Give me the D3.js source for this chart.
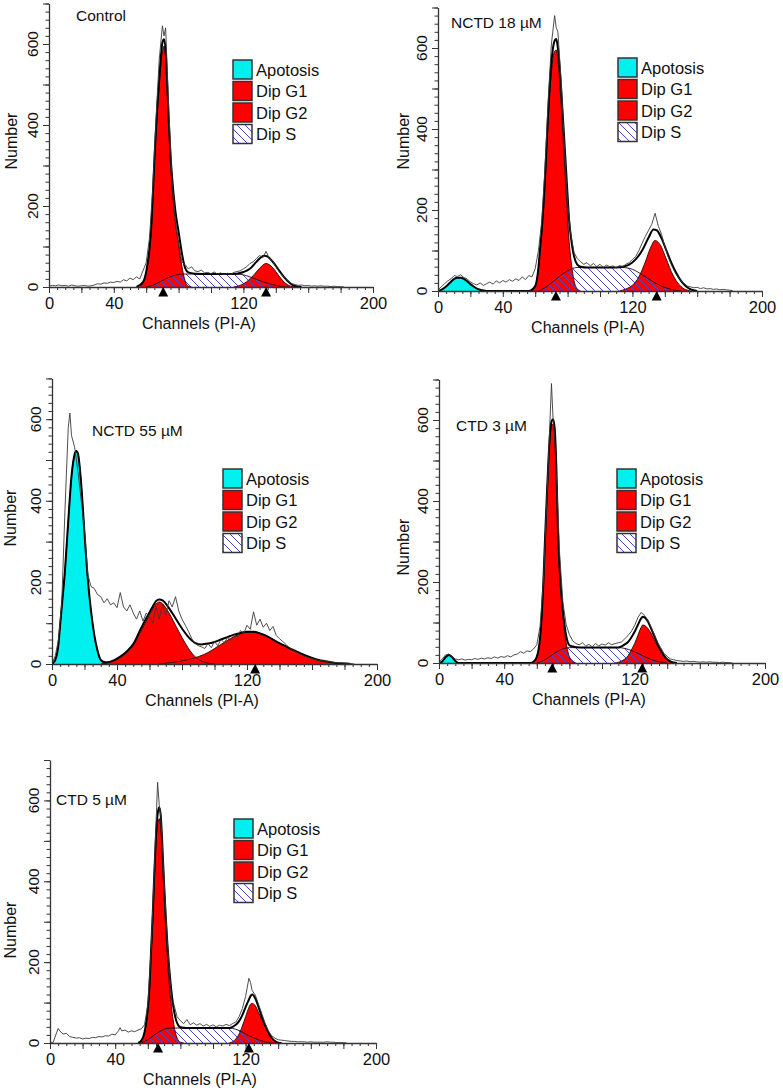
<!DOCTYPE html>
<html><head><meta charset="utf-8">
<script src="https://cdn.jsdelivr.net/npm/d3@7"></script>
<style>body{margin:0;background:#fff} text{font-family:Arial,"Liberation Sans",sans-serif;fill:#111}</style>
</head><body><svg id="c" width="783" height="1091"></svg>
<script>
// ---------- DATA (channel, count) ----------
const xTickLabels = [0, 40, 120, 200];
const yTickLabels = [0, 200, 400, 600];
const legendLabels = ["Apotosis", "Dip G1", "Dip G2", "Dip S"];
const titles = ["Control", "NCTD 18 \u00b5M", "NCTD 55 \u00b5M", "CTD 3 \u00b5M", "CTD 5 \u00b5M"];

// Control
const ctrlG1 = [[56,0],[58,10],[60,35],[62,90],[63,135],[64,210],[65,300],[66,375],[68,495],[70,582],[71,595],[72,565],[73,480],[74,385],[75,305],[76,245],[78,160],[80,105],[82,52],[84,15],[86,2],[88,0]];
const ctrlS = [[60,0],[64,4],[68,12],[72,20],[76,27],[80,31],[84,32],[100,32],[116,32],[120,30],[124,25],[128,19],[132,13],[136,8],[140,4],[144,1],[148,0]];
const ctrlG2 = [[114,0],[118,4],[122,13],[126,28],[130,46],[133,57],[134,58],[136,55],[138,48],[140,38],[142,27],[144,17],[146,9],[148,4],[150,1],[152,0]];
const ctrlFit = [[54,0],[58,12],[60,38],[62,95],[63,140],[64,218],[65,310],[66,388],[68,512],[70,603],[71,612],[72,585],[73,500],[74,405],[75,327],[76,270],[78,188],[80,136],[82,84],[84,47],[86,36],[90,33],[100,32],[110,32],[116,33],[120,37],[124,45],[128,62],[131,74],[133,77],[135,75],[138,63],[141,47],[144,30],[147,16],[150,6],[153,1],[156,0]];
const ctrlRaw = [[0,2],[2,4],[4,3],[6,5],[8,3],[10,4],[12,2],[14,5],[16,3],[18,2],[20,3],[22,4],[24,2],[26,3],[28,5],[30,8],[32,7],[34,10],[36,9],[38,12],[40,11],[42,14],[44,12],[46,18],[48,15],[50,22],[52,18],[54,25],[56,20],[58,40],[60,60],[62,120],[64,240],[66,410],[68,560],[70,645],[71,620],[72,640],[74,430],[76,260],[78,170],[80,110],[82,62],[84,55],[86,45],[88,50],[90,40],[92,38],[94,42],[96,35],[98,36],[100,33],[102,37],[104,32],[106,35],[108,30],[110,34],[112,31],[114,36],[116,38],[118,40],[120,45],[122,50],[124,58],[126,62],[128,70],[130,78],[132,72],[134,88],[136,70],[138,65],[140,50],[142,38],[144,28],[146,20],[148,12],[150,8],[152,6],[154,4],[156,5],[158,3],[160,4],[162,2],[164,3],[166,2],[168,3],[170,2],[172,2],[174,1],[176,2],[178,1],[180,1],[182,0]];
const ctrlMarks = [70.5, 134];

// NCTD 18 uM
const n18Apo = [[0,0],[2,3],[4,8],[6,15],[8,23],[10,30],[12,33],[14,33],[16,30],[18,24],[20,17],[22,11],[24,6],[26,3],[28,1],[30,0]];
const n18G1 = [[58,0],[60,12],[62,55],[63,100],[64,140],[66,260],[68,420],[70,540],[72,592],[73,595],[74,570],[76,460],[78,320],[80,180],[81,120],[82,80],[84,25],[86,5],[88,0]];
const n18S = [[62,0],[66,8],[70,20],[74,33],[78,45],[82,54],[86,58],[100,58],[114,58],[118,56],[122,50],[126,40],[130,30],[134,20],[138,12],[142,6],[146,2],[150,0]];
const n18G2 = [[112,0],[116,5],[120,14],[124,35],[128,72],[131,105],[134,125],[136,120],[138,108],[140,88],[142,68],[144,48],[146,32],[148,20],[150,11],[152,5],[154,2],[156,0]];
const n18Fit = [[0,0],[2,3],[4,8],[6,15],[8,23],[10,30],[12,33],[14,33],[16,30],[18,24],[20,17],[22,11],[24,6],[26,3],[28,1],[30,0],[56,0],[60,12],[62,58],[63,104],[64,150],[66,275],[68,440],[70,565],[72,618],[73,622],[74,600],[76,500],[78,370],[80,235],[81,172],[82,135],[84,85],[86,65],[88,60],[92,58],[100,58],[110,58],[114,60],[118,65],[122,78],[126,100],[130,132],[133,152],[135,150],[138,130],[141,100],[144,70],[147,45],[150,25],[153,12],[156,4],[160,0]];
const n18Raw = [[0,3],[2,10],[4,18],[6,25],[8,30],[10,38],[12,36],[14,40],[16,33],[18,30],[20,22],[22,18],[24,15],[26,20],[28,14],[30,18],[32,22],[34,17],[36,25],[38,20],[40,26],[42,22],[44,28],[46,24],[48,30],[50,26],[52,35],[54,28],[56,38],[58,35],[60,55],[62,100],[64,170],[66,300],[68,470],[70,610],[72,680],[73,650],[74,640],[76,520],[78,360],[80,220],[82,140],[84,95],[86,80],[88,72],[90,66],[92,70],[94,62],[96,68],[98,60],[100,66],[102,58],[104,64],[106,60],[108,62],[110,57],[112,63],[114,60],[116,66],[118,70],[120,78],[122,85],[124,100],[126,118],[128,135],[130,150],[132,165],[134,192],[136,160],[138,140],[140,110],[142,85],[144,65],[146,48],[148,35],[150,25],[152,18],[154,12],[156,10],[158,8],[160,9],[162,6],[164,8],[166,5],[168,6],[170,4],[172,5],[174,3],[176,4],[178,3],[180,2],[182,1]];
const n18Marks = [72.8, 135];

// NCTD 55 uM
const n55Apo = [[0,0],[2,10],[4,50],[5,95],[6,140],[8,230],[10,350],[12,460],[14,515],[15,522],[16,515],[18,440],[20,320],[21,260],[22,210],[24,130],[25,100],[26,70],[28,30],[30,8],[32,2],[34,0]];
const n55G1 = [[30,0],[34,3],[38,8],[42,16],[46,28],[50,45],[54,75],[58,105],[62,135],[64,147],[66,152],[68,148],[70,138],[72,125],[76,95],[80,65],[84,38],[88,18],[92,7],[96,2],[100,0]];
const n55G2 = [[66,0],[72,3],[78,6],[84,11],[90,18],[96,28],[100,38],[104,48],[108,58],[112,67],[116,74],[120,78],[124,78],[128,75],[132,69],[136,60],[140,51],[144,43],[148,35],[152,28],[156,21],[160,15],[164,10],[168,7],[172,4],[176,2],[180,1],[184,0]];
const n55Fit = [[0,0],[2,10],[4,50],[5,95],[6,140],[8,230],[10,350],[12,460],[14,515],[15,522],[16,515],[18,440],[20,320],[22,210],[24,130],[26,72],[28,33],[30,10],[32,5],[34,4],[38,9],[42,18],[46,31],[50,49],[54,81],[58,112],[62,141],[64,154],[66,158],[68,156],[70,148],[72,137],[76,112],[80,87],[84,66],[88,52],[92,48],[96,50],[100,54],[104,60],[108,66],[112,72],[116,76],[120,79],[124,79],[128,75],[132,69],[136,60],[140,51],[144,43],[148,35],[152,28],[156,21],[160,15],[164,10],[168,7],[172,4],[176,2],[180,1],[184,0]];
const n55Raw = [[0,0],[2,20],[4,60],[6,150],[8,380],[10,580],[11,615],[12,560],[14,530],[16,470],[18,400],[20,330],[22,220],[24,190],[26,185],[28,170],[30,165],[32,150],[34,160],[36,145],[38,150],[40,138],[42,175],[44,140],[46,130],[48,145],[50,125],[52,110],[54,130],[56,105],[58,125],[60,115],[62,100],[64,140],[66,110],[68,145],[70,120],[72,155],[74,140],[76,165],[78,130],[80,110],[82,95],[84,80],[86,62],[88,50],[90,45],[92,42],[94,38],[96,50],[98,40],[100,55],[102,45],[104,60],[106,52],[108,65],[110,58],[112,72],[114,66],[116,82],[118,75],[120,95],[122,85],[124,128],[126,95],[128,110],[130,90],[132,100],[134,82],[136,92],[138,70],[140,62],[142,55],[144,48],[146,40],[148,35],[150,30],[152,26],[154,22],[156,18],[158,15],[160,13],[162,11],[164,9],[166,8],[168,7],[170,6],[172,5],[174,4],[176,3],[178,3],[180,2],[182,2],[184,1],[186,0]];
const n55Marks = [125];

// CTD 3 uM
const c3Apo = [[0,0],[2,4],[4,14],[6,20],[8,15],[10,5],[12,0]];
const c3G1 = [[56,0],[58,3],[60,15],[62,60],[63,110],[64,190],[65,295],[66,390],[67,480],[68,550],[69,585],[70,590],[71,565],[72,470],[73,310],[74,220],[75,160],[76,115],[78,50],[80,15],[82,3],[84,0]];
const c3S = [[60,0],[64,6],[68,16],[72,27],[76,35],[80,38],[100,38],[110,38],[114,36],[118,31],[122,24],[126,16],[130,9],[134,4],[138,1],[140,0]];
const c3G2 = [[108,0],[112,5],[116,18],[118,32],[120,48],[122,68],[124,88],[125,94],[126,93],[128,86],[130,74],[132,58],[134,42],[136,28],[138,17],[140,9],[142,4],[144,1],[146,0]];
const c3Fit = [[0,0],[2,4],[4,14],[6,20],[8,15],[10,5],[12,0],[56,0],[58,3],[60,15],[62,62],[63,115],[64,196],[65,302],[66,398],[67,489],[68,560],[69,596],[70,602],[71,578],[72,484],[73,324],[74,234],[75,175],[76,130],[78,68],[80,44],[82,41],[84,39],[90,38],[100,38],[110,38],[112,41],[114,46],[116,52],[118,63],[120,77],[122,94],[124,110],[125,114],[126,113],[128,104],[130,86],[132,67],[134,48],[136,32],[138,19],[140,9],[142,4],[144,1],[146,0]];
const c3Raw = [[0,2],[2,10],[4,20],[6,22],[8,14],[10,10],[12,8],[14,10],[16,7],[18,9],[20,8],[22,11],[24,9],[26,12],[28,10],[30,13],[32,11],[34,15],[36,12],[38,16],[40,14],[42,18],[44,15],[46,20],[48,22],[50,28],[52,24],[54,30],[56,28],[58,35],[60,45],[62,90],[64,200],[66,390],[68,590],[69,690],[70,600],[71,560],[72,470],[74,270],[76,150],[78,95],[80,70],[82,55],[84,48],[86,45],[88,50],[90,42],[92,46],[94,40],[96,48],[98,42],[100,47],[102,44],[104,50],[106,45],[108,48],[110,50],[112,52],[114,60],[116,68],[118,78],[120,92],[122,112],[124,125],[126,118],[128,105],[130,90],[132,72],[134,52],[136,38],[138,24],[140,16],[142,10],[144,8],[146,6],[148,5],[150,4],[152,5],[154,3],[156,4],[158,3],[160,2],[162,3],[164,2],[166,3],[168,2],[170,2],[172,1],[174,2],[176,1],[178,1],[180,0]];
const c3Marks = [69.5, 124.7];

// CTD 5 uM
const c5G1 = [[54,0],[56,6],[58,25],[60,80],[61,130],[62,215],[63,300],[64,400],[65,490],[66,540],[67,555],[68,530],[69,450],[70,360],[71,280],[72,210],[74,110],[76,45],[78,12],[80,2],[82,0]];
const c5S = [[56,0],[60,8],[64,20],[68,30],[72,36],[76,37],[100,37],[110,37],[114,34],[118,27],[122,18],[126,11],[130,5],[134,1],[136,0]];
const c5G2 = [[110,0],[112,3],[114,10],[116,22],[118,42],[120,65],[122,88],[123,96],[124,98],[126,92],[128,75],[130,58],[132,40],[134,24],[136,12],[138,5],[140,1],[142,0]];
const c5Fit = [[54,0],[56,6],[58,27],[60,85],[61,137],[62,228],[63,315],[64,420],[65,512],[66,565],[67,583],[68,560],[69,482],[70,393],[71,314],[72,246],[74,147],[76,82],[78,49],[80,39],[84,37],[100,37],[110,37],[112,40],[114,45],[116,54],[118,69],[120,89],[122,107],[123,116],[124,120],[126,110],[128,88],[130,65],[132,44],[134,26],[136,13],[138,5],[140,1],[142,0]];
const c5Raw = [[0,0],[2,2],[4,25],[5,36],[6,30],[8,22],[10,24],[12,16],[14,14],[16,12],[18,13],[20,10],[22,12],[24,11],[26,14],[28,13],[30,16],[32,15],[34,18],[36,17],[38,22],[40,20],[42,30],[43,38],[44,30],[46,32],[48,27],[50,30],[52,28],[54,32],[56,35],[58,45],[60,95],[62,230],[64,430],[66,645],[67,590],[68,560],[70,400],[72,250],[74,140],[75,90],[76,95],[78,65],[80,55],[82,48],[84,58],[86,45],[88,50],[90,44],[92,48],[94,42],[96,46],[98,41],[100,45],[102,40],[104,44],[106,42],[108,46],[110,43],[112,48],[114,52],[116,65],[118,85],[120,115],[122,160],[123,150],[124,130],[126,118],[128,95],[130,72],[132,48],[134,30],[136,18],[138,12],[140,8],[142,7],[144,6],[146,5],[148,4],[150,4],[152,3],[154,3],[156,3],[158,2],[160,3],[162,2],[164,2],[166,2],[168,2],[170,3],[172,2],[174,2],[176,1],[178,1],[180,1],[182,0]];
const c5Marks = [66.3, 122];

// ---------- LAYOUT ----------
const panels = [
  {title: titles[0], tx: 76, ty: 21, x0: 49, base: 287, w: 324, h: 283.5, lx: 233, ly: 60, nx: 11, ny: 141,
   apo: null, g1: ctrlG1, g2: ctrlG2, s: ctrlS, fit: ctrlFit, raw: ctrlRaw, marks: ctrlMarks},
  {title: titles[1], tx: 451, ty: 28, x0: 438, base: 291, w: 324, h: 283.5, lx: 618, ly: 58, nx: 403, ny: 141,
   apo: n18Apo, g1: n18G1, g2: n18G2, s: n18S, fit: n18Fit, raw: n18Raw, marks: n18Marks},
  {title: titles[2], tx: 92, ty: 436, x0: 52, base: 664, w: 325, h: 285.6, lx: 223, ly: 469, nx: 10, ny: 518,
   apo: n55Apo, g1: n55G1, g2: n55G2, s: null, fit: n55Fit, raw: n55Raw, marks: n55Marks},
  {title: titles[3], tx: 456, ty: 431, x0: 439, base: 663, w: 326, h: 283.5, lx: 617, ly: 469, nx: 403, ny: 547,
   apo: c3Apo, g1: c3G1, g2: c3G2, s: c3S, fit: c3Fit, raw: c3Raw, marks: c3Marks},
  {title: titles[4], tx: 56, ty: 805, x0: 50, base: 1043, w: 326, h: 283, lx: 234, ly: 819, nx: 10, ny: 930,
   apo: null, g1: c5G1, g2: c5G2, s: c5S, fit: c5Fit, raw: c5Raw, marks: c5Marks}
];

const RED = "#ff0000", CYAN = "#00f0f0", HATCH = "#4848d8";
const svg = d3.select("#c");
const defs = svg.append("defs");
const pat = defs.append("pattern").attr("id", "hatch").attr("patternUnits", "userSpaceOnUse")
  .attr("width", 8).attr("height", 8);
pat.append("path").attr("d", "M-1,-1 L9,9 M-1,7 L1,9 M7,-1 L9,1")
  .attr("stroke", HATCH).attr("stroke-width", 1).attr("fill", "none");

panels.forEach((p, i) => {
  const x = d3.scaleLinear().domain([0, 200]).range([p.x0, p.x0 + p.w]);
  const y = d3.scaleLinear().domain([0, 700]).range([p.base, p.base - p.h]);
  const g = svg.append("g");
  defs.append("clipPath").attr("id", "clip" + i).append("rect")
    .attr("x", p.x0).attr("y", p.base - p.h - 10).attr("width", p.w).attr("height", p.h + 10);
  const plot = g.append("g").attr("clip-path", `url(#clip${i})`);
  const area = d3.area().x(d => x(d[0])).y0(y(0)).y1(d => y(d[1])).curve(d3.curveMonotoneX);
  const line = d3.line().x(d => x(d[0])).y(d => y(d[1])).curve(d3.curveMonotoneX);

  if (p.apo) plot.append("path").attr("d", area(p.apo)).attr("fill", CYAN);
  plot.append("path").attr("d", area(p.g1)).attr("fill", RED);
  plot.append("path").attr("d", area(p.g2)).attr("fill", RED);
  if (p.s) plot.append("path").attr("d", area(p.s)).attr("fill", "url(#hatch)");
  [p.apo, p.g1, p.g2, p.s].forEach(c => {
    if (c) plot.append("path").attr("d", line(c)).attr("fill", "none").attr("stroke", "#2a0000").attr("stroke-width", 0.9);
  });
  plot.append("path").attr("d", line(p.fit)).attr("fill", "none").attr("stroke", "#000").attr("stroke-width", 2);
  plot.append("path").attr("d", d3.line().x(d => x(d[0])).y(d => y(d[1]))(p.raw))
    .attr("fill", "none").attr("stroke", "#3a3a3a").attr("stroke-width", 0.9);

  // axes
  const ax = g.append("g").attr("transform", `translate(0,${p.base})`).attr("color", "#333");
  ax.call(d3.axisBottom(x).tickValues(d3.range(0, 201, 5)).tickSize(3).tickSizeOuter(0).tickFormat(""));
  ax.append("g").call(d3.axisBottom(x).tickValues(d3.range(0, 201, 20)).tickSize(6).tickFormat(""))
    .select(".domain").remove();
  const axl = ax.append("g").call(d3.axisBottom(x).tickValues(xTickLabels).tickSize(0).tickPadding(10));
  axl.select(".domain").remove();
  axl.selectAll("text").attr("font-size", 16.5).attr("font-family", "Arial, 'Liberation Sans', sans-serif").attr("fill", "#111");
  ax.select(".domain").attr("stroke-width", 1.3);

  const ay = g.append("g").attr("transform", `translate(${p.x0},0)`).attr("color", "#333");
  ay.call(d3.axisLeft(y).tickValues(d3.range(0, 701, 20)).tickSize(3.5).tickSizeOuter(0).tickFormat(""));
  ay.append("g").call(d3.axisLeft(y).tickValues(d3.range(0, 701, 100)).tickSize(6).tickFormat(""))
    .select(".domain").remove();
  ay.select(".domain").attr("stroke-width", 1.3);
  yTickLabels.forEach(v => {
    g.append("text").attr("transform", `translate(${p.x0 - 17},${y(v)}) rotate(-90)`)
      .attr("text-anchor", "middle").attr("dominant-baseline", "central").attr("font-size", 15.5).text(v);
  });

  // markers
  p.marks.forEach(m => {
    g.append("path").attr("d", `M${x(m)},${p.base} l-5,9.5 h10 z`).attr("fill", "#000");
  });

  // labels
  g.append("text").attr("x", p.x0 + 150).attr("y", p.base + 42).attr("text-anchor", "middle")
    .attr("font-size", 16).text("Channels (PI-A)");
  g.append("text").attr("transform", `translate(${p.nx},${p.ny}) rotate(-90)`)
    .attr("text-anchor", "middle").attr("dominant-baseline", "central").attr("font-size", 16).text("Number");
  g.append("text").attr("x", p.tx).attr("y", p.ty).attr("font-size", 15.5).text(p.title);

  // legend
  const fills = [CYAN, RED, RED, "url(#hatch)"];
  legendLabels.forEach((lab, k) => {
    const yy = p.ly + k * 21.5;
    if (k === 3) g.append("rect").attr("x", p.lx).attr("y", yy).attr("width", 19).attr("height", 19).attr("fill", "#fff");
    g.append("rect").attr("x", p.lx).attr("y", yy).attr("width", 19).attr("height", 19)
      .attr("fill", fills[k]).attr("stroke", "#333").attr("stroke-width", 1.5);
    g.append("text").attr("x", p.lx + 23).attr("y", yy + 15.5).attr("font-size", 16.5).text(lab);
  });
});
</script></body></html>
